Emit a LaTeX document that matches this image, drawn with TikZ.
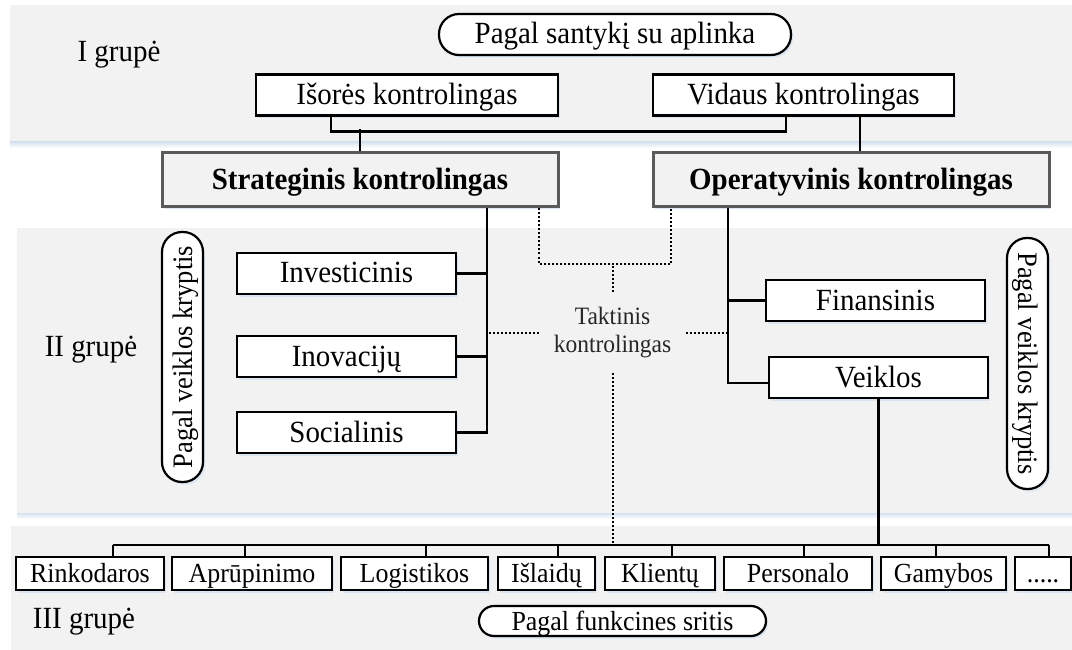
\documentclass[tikz,border=0pt]{standalone}
\usepackage{fontspec}
\setmainfont{Liberation Serif}[FakeStretch=0.94]
\usetikzlibrary{shadows,calc}
\definecolor{bandgray}{HTML}{F2F2F2}
\definecolor{shadowblue}{HTML}{D5E2F0}
\definecolor{framegray}{HTML}{5A5A5A}

\tikzset{
  conn/.style={line width=2.3pt},
  dots/.style={line width=2pt, dash pattern=on 2pt off 2pt},
  soft/.style={drop shadow={shadow xshift=2pt, shadow yshift=-2.5pt, fill=shadowblue, opacity=0.8}},
  fixedtext/.style={text height=26pt, text depth=7pt},
  box/.style={draw, line width=2.2pt, fill=white, inner sep=0pt, minimum height=41pt, soft,
    fixedtext, font=\fontsize{30.8}{34}\selectfont},
  smallbox/.style={box, minimum height=33pt, text height=24.5pt, text depth=6pt,
    font=\fontsize{27.6}{31}\selectfont},
  major/.style={draw=framegray, line width=3pt, fill=bandgray, inner sep=0pt, fixedtext,
    minimum height=54pt, minimum width=396pt, soft, font=\fontsize{30.8}{34}\selectfont\bfseries},
  pill/.style={draw, line width=2.2pt, fill=white, rounded corners=20pt, inner sep=0pt, fixedtext,
    minimum height=41pt, soft, font=\fontsize{30.8}{34}\selectfont},
  grp/.style={font=\fontsize{30.8}{34}\selectfont, inner sep=0pt},
}

\begin{document}
\begin{tikzpicture}[x=1pt,y=-1pt]
\useasboundingbox (0,0) rectangle (1072,650);
\fill[white] (0,0) rectangle (1072,650);

% group bands
\fill[bandgray] (10,5) rectangle (1072,142);
\shade[top color=shadowblue, bottom color=white] (10,142) rectangle (1072,148);
\fill[bandgray] (17,228) rectangle (1072,513);
\shade[top color=shadowblue, bottom color=white] (17,513) rectangle (1072,519);
\fill[bandgray] (11,526) rectangle (1072,650);

% group labels
\node[grp] (g1) at (119,55) {I grupė};
\node[grp] (g2) at (91,350) {II grupė};
\node[grp] (g3) at (84,622) {III grupė};

% group I
\node[pill, minimum width=352pt] (env) at (615,34.5) {Pagal santykį su aplinka};
\node[box, minimum width=302pt] (ext) at (407,95) {Išorės kontrolingas};
\node[box, minimum width=301pt] (int) at (803.5,95) {Vidaus kontrolingas};

% main levels
\node[major] (str) at (360,180) {Strateginis kontrolingas};
\node[major] (opr) at (851,180) {Operatyvinis kontrolingas};

% group II
\node[box, minimum width=219pt] (inv) at (346.5,273.5) {Investicinis};
\node[box, minimum width=219pt] (ino) at (346.5,356.5) {Inovacijų};
\node[box, minimum width=219pt] (soc) at (346.5,432.5) {Socialinis};
\node[box, minimum width=219pt] (fin) at (875.5,300.5) {Finansinis};
\node[box, minimum width=219pt] (vei) at (878.5,377.5) {Veiklos};
\node[pill, rotate=90, minimum width=250pt, font=\fontsize{28.2}{31}\selectfont] (dirl) at (182.5,357) {Pagal veiklos kryptis};
\node[pill, rotate=-90, minimum width=251pt, font=\fontsize{28.2}{31}\selectfont] (dirr) at (1027.5,363.5) {Pagal veiklos kryptis};
\node[font=\fontsize{25}{28}\selectfont, align=center, text=black!85, inner sep=0pt,
  minimum width=147pt, minimum height=81pt] (tk) at (612.5,332.5) {Taktinis\\kontrolingas};

% group III
\node[smallbox, minimum width=148pt] (f1) at (90,573.5) {Rinkodaros};
\node[smallbox, minimum width=160pt] (f2) at (252,573.5) {Aprūpinimo};
\node[smallbox, minimum width=147pt] (f3) at (414.5,573.5) {Logistikos};
\node[smallbox, minimum width=97pt] (f4) at (546.5,573.5) {Išlaidų};
\node[smallbox, minimum width=110pt] (f5) at (660,573.5) {Klientų};
\node[smallbox, minimum width=148pt] (f6) at (798,573.5) {Personalo};
\node[smallbox, minimum width=125pt] (f7) at (943.5,573.5) {Gamybos};
\node[smallbox, minimum width=56pt] (f8) at (1043,573.5) {.....};
\node[pill, minimum width=287pt, minimum height=30pt, rounded corners=15pt,
  text height=24pt, text depth=6pt, font=\fontsize{27.6}{31}\selectfont] (fun) at (622.5,621) {Pagal funkcines sritis};

% connectors, group I to main levels
\draw[conn] ($(ext.south)+(-76,0)$) -- ++(0,15) -| ($(int.south)+(-17.5,0)$);
\draw[conn] (str.north) -- ++(0,-22);
\draw[conn] ($(int.south)+(56.5,0)$) -- ($(opr.north)+(9,0)$);

% strategic branch
\coordinate (sx) at ($(str.south)+(127,0)$);
\draw[conn] (sx) |- (soc.east);
\draw[conn] (inv.east) -- (inv.east -| sx);
\draw[conn] (ino.east) -- (ino.east -| sx);

% operative branch
\coordinate (ox) at ($(opr.south)+(-123,0)$);
\draw[conn] (ox) |- ($(vei.west)+(0,5.5)$);
\draw[conn] (fin.west) -- (fin.west -| ox);

% functional areas
\coordinate (bar) at (0,546);
\draw[conn] ($(f1.north)+(23,-11)$) -- ($(f8.north)+(6,-11)$);
\foreach \n/\d in {f1/23,f2/-7,f3/11.5,f4/11.5,f5/12,f6/6,f7/-7.5,f8/6}
  \draw[conn] ($(\n.north)+(\d,0)$) -- ++(0,-11);
\draw[conn] (vei.south) -- (vei.south |- bar);

% tactical controlling
\draw[dots] ($(str.south)+(179,0)$) -- ++(0,55) coordinate (dj) -| ($(opr.south)+(-180,0)$);
\draw[dots] (tk.north) -- (tk.north |- dj);
\draw[dots] (tk.west) -- (tk.west -| sx);
\draw[dots] (tk.east) -- (tk.east -| ox);
\draw[dots] (tk.south) -- (tk.south |- bar);
\end{tikzpicture}
\end{document}
